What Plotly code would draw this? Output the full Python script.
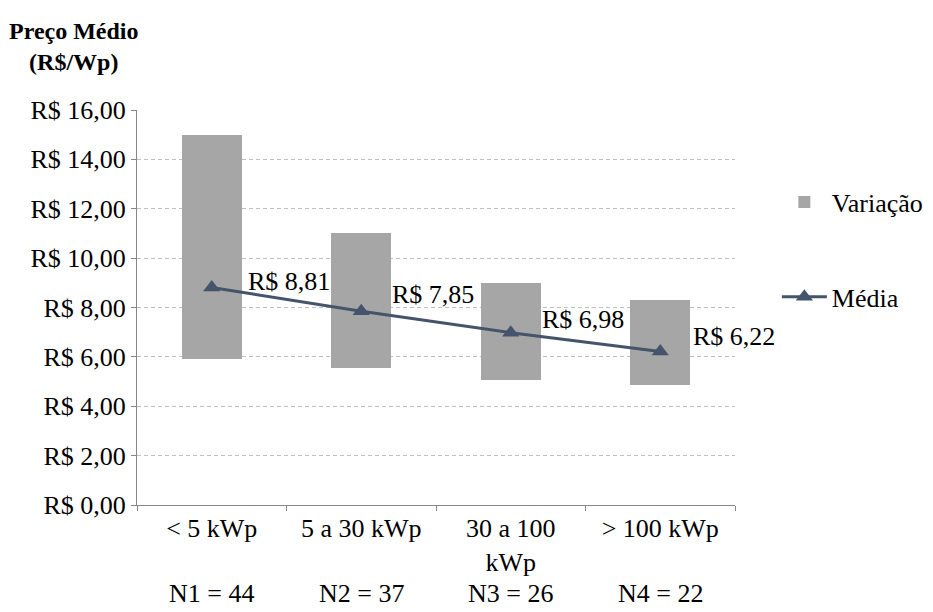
import plotly.graph_objects as go

# Faixas de potência e estatísticas de preço (R$/Wp)
categorias = ["< 5 kWp", "5 a 30 kWp", "30 a 100<br>kWp", "> 100 kWp"]
amostras = ["N1 = 44", "N2 = 37", "N3 = 26", "N4 = 22"]
preco_min = [5.9, 5.55, 5.05, 4.85]
preco_max = [15.0, 11.0, 9.0, 8.3]
preco_medio = [8.81, 7.85, 6.98, 6.22]
rotulos_medio = ["R$ 8,81", "R$ 7,85", "R$ 6,98", "R$ 6,22"]
y_ticks = [0, 2, 4, 6, 8, 10, 12, 14, 16]
y_ticktext = ["R$ 0,00", "R$ 2,00", "R$ 4,00", "R$ 6,00", "R$ 8,00",
              "R$ 10,00", "R$ 12,00", "R$ 14,00", "R$ 16,00"]

FONT = "'Liberation Serif', 'Times New Roman', serif"

fig = go.Figure()

fig.add_trace(go.Bar(
    x=categorias,
    base=preco_min,
    y=[hi - lo for hi, lo in zip(preco_max, preco_min)],
    width=0.4,
    marker=dict(color="#a6a6a6", line=dict(width=0)),
    name="Variação",
    legend="legend",
))

fig.add_trace(go.Scatter(
    x=categorias,
    y=preco_medio,
    mode="lines+markers",
    line=dict(color="#44546a", width=3),
    marker=dict(symbol="triangle-up", size=15, color="#44546a"),
    name="Média",
    legend="legend2",
))

# Rótulos de valor da média, deslocados para a direita de cada ponto
deslocamentos = [(34, 6), (29, 17), (29, 13), (31, 15)]
for cat, val, txt, (dx, dy) in zip(categorias, preco_medio, rotulos_medio, deslocamentos):
    fig.add_annotation(x=cat, y=val, xref="x", yref="y", text=txt,
                       showarrow=False, xanchor="left", yanchor="middle",
                       xshift=dx, yshift=dy,
                       font=dict(family=FONT, size=26, color="black"))

# Tamanho da amostra abaixo de cada faixa
for cat, txt in zip(categorias, amostras):
    fig.add_annotation(x=cat, y=0, xref="x", yref="paper", text=txt,
                       showarrow=False, xanchor="center", yanchor="middle",
                       yshift=-88,
                       font=dict(family=FONT, size=26, color="black"))

# Título do eixo vertical, na horizontal acima do eixo
fig.add_annotation(x=-0.105, y=1.162, xref="paper", yref="paper",
                   text="<b>Preço Médio</b><br><b>(R$/Wp)</b>",
                   showarrow=False, xanchor="center", yanchor="middle",
                   font=dict(family=FONT, size=24, color="black"))

fig.update_layout(
    width=933, height=612,
    margin=dict(l=137, r=198, t=110, b=107, autoexpand=False),
    paper_bgcolor="white", plot_bgcolor="white",
    font=dict(family=FONT, size=26, color="black"),
    showlegend=True,
    legend=dict(x=1.07, y=0.767, xanchor="left", yanchor="middle",
                itemwidth=45, bgcolor="rgba(0,0,0,0)",
                font=dict(family=FONT, size=26)),
    legend2=dict(x=1.07, y=0.527, xanchor="left", yanchor="middle",
                 itemwidth=45, bgcolor="rgba(0,0,0,0)",
                 font=dict(family=FONT, size=26)),
    bargap=0,
)

fig.update_xaxes(
    type="category",
    range=[-0.5, len(categorias) - 0.5],
    showline=True, linecolor="#868686", linewidth=1,
    showgrid=False, zeroline=False,
    ticks="outside", tickson="boundaries", ticklen=5, tickcolor="#868686",
    ticklabelstandoff=0,
    tickfont=dict(family=FONT, size=26),
)

fig.update_yaxes(
    range=[0, 16], tickvals=y_ticks, ticktext=y_ticktext,
    showline=True, linecolor="#868686", linewidth=1,
    ticks="outside", ticklen=5, tickcolor="#868686",
    showgrid=True, gridcolor="#c0c0c0", griddash="4px,3px", gridwidth=1,
    zeroline=False, tickfont=dict(family=FONT, size=26),
)

fig.write_html("out.html")
